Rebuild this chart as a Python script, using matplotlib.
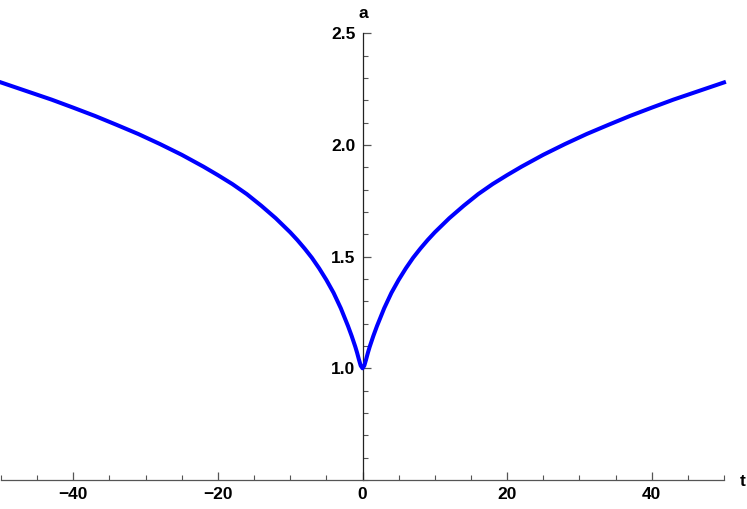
import matplotlib
matplotlib.use("Agg")
import matplotlib.pyplot as plt
from matplotlib.ticker import MultipleLocator, FixedLocator

# Data (curve is symmetric about t = 0)
t_vals = [-50, -46, -43, -40, -37, -34, -31, -28, -25, -22, -20, -18, -16, -14,
          -12, -10, -9, -8, -7, -6, -5, -4, -3, -2, -1.5, -1, -0.75, -0.5, -0.25, 0,
          0.25, 0.5, 0.75, 1, 1.5, 2, 3, 4, 5, 6, 7, 8, 9, 10, 12, 14, 16, 18, 20,
          22, 25, 28, 31, 34, 37, 40, 43, 46, 50]
a_vals = [2.280, 2.236, 2.203, 2.167, 2.130, 2.090, 2.049, 2.004, 1.956, 1.903,
          1.865, 1.825, 1.780, 1.728, 1.672, 1.609, 1.574, 1.536, 1.495, 1.448,
          1.396, 1.338, 1.269, 1.189, 1.145, 1.097, 1.070, 1.040, 1.012, 1.000,
          1.012, 1.040, 1.070, 1.097, 1.145, 1.189, 1.269, 1.338, 1.396, 1.448,
          1.495, 1.536, 1.574, 1.609, 1.672, 1.728, 1.780, 1.825, 1.865, 1.903,
          1.956, 2.004, 2.049, 2.090, 2.130, 2.167, 2.203, 2.236, 2.280]

x_major = [-40, -20, 0, 20, 40]
y_major = [1.0, 1.5, 2.0, 2.5]
y_labels = ["1.0", "1.5", "2.0", "2.5"]

plt.rcParams['font.family'] = ['Liberation Sans', 'DejaVu Sans']

W, H = 747, 509
fig = plt.figure(figsize=(W / 100, H / 100), dpi=100)
ax = fig.add_axes([1 / W, (H - 480) / H, 723 / W, (480 - 33.3) / H])

ax.plot(t_vals, a_vals, color='#0000FF', lw=2.9, solid_joinstyle='round',
        clip_on=False, zorder=3)

ax.set_xlim(-50, 50)
ax.set_ylim(0.5, 2.5)

for s in ['top', 'right']:
    ax.spines[s].set_visible(False)
ax.spines['left'].set_position(('data', 0))
ax.spines['left'].set_color('#222222')
ax.spines['bottom'].set_color('#555555')
ax.spines['left'].set_linewidth(0.9)
ax.spines['bottom'].set_linewidth(0.9)

ax.xaxis.set_major_locator(FixedLocator(x_major))
ax.xaxis.set_minor_locator(MultipleLocator(5))
ax.yaxis.set_major_locator(FixedLocator(y_major))
ax.set_yticklabels(y_labels)
ax.yaxis.set_minor_locator(MultipleLocator(0.1))

ax.tick_params(axis='both', which='major', direction='in', length=6, width=0.9,
               color='#555555', labelsize=12.5, pad=5)
ax.tick_params(axis='both', which='minor', direction='in', length=3.3, width=0.8,
               color='#555555')
for lab in ax.get_xticklabels() + ax.get_yticklabels():
    lab.set_fontweight('bold')

fig.text(743 / W, 1 - 482 / H, 't', ha='center', va='center', fontsize=12.5,
         fontweight='bold')
fig.text(363 / W, 1 - 13 / H, 'a', ha='center', va='center', fontsize=12.5,
         fontweight='bold')

fig.savefig('out.png', dpi=100)
